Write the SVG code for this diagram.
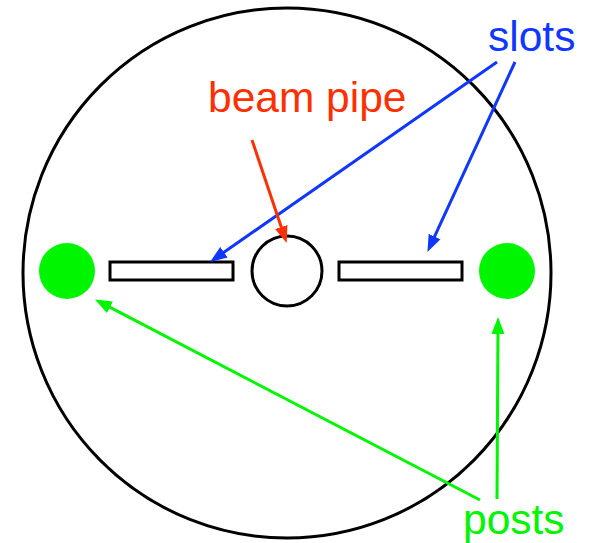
<svg xmlns="http://www.w3.org/2000/svg" width="593" height="543" viewBox="0 0 593 543">
<defs>
<marker id="b" markerUnits="userSpaceOnUse" markerWidth="18" markerHeight="14" refX="9" refY="7" orient="auto"><path d="M0 0.5L17 7L0 13.5Z" fill="#0f37ff"/></marker>
<marker id="r" markerUnits="userSpaceOnUse" markerWidth="18" markerHeight="14" refX="9" refY="7" orient="auto"><path d="M0 0.5L17 7L0 13.5Z" fill="#ff3000"/></marker>
<marker id="g" markerUnits="userSpaceOnUse" markerWidth="18" markerHeight="14" refX="9" refY="7" orient="auto"><path d="M0 0.5L17 7L0 13.5Z" fill="#00f500"/></marker>
</defs>
<style>
.o{fill:#fff;stroke:#000;stroke-width:3}
.t{font-family:"Liberation Sans",Arial,sans-serif;font-size:42.5px}
.c{fill:none;stroke-width:3}
</style>
<rect width="593" height="543" fill="#fff"/>
<g id="housing"><ellipse cx="287" cy="273" rx="264" ry="265" fill="#fff" stroke="#000" stroke-width="3"/></g>
<g id="slot-left"><rect class="o" x="110" y="262" width="123" height="18"/></g>
<g id="slot-right"><rect class="o" x="339" y="262" width="123" height="18"/></g>
<g id="pipe"><circle class="o" cx="287" cy="271" r="35"/></g>
<g id="post-left"><circle cx="67" cy="271" r="28" fill="#00f500"/></g>
<g id="post-right"><circle cx="507" cy="271" r="28" fill="#00f500"/></g>
<g id="connectors">
<path class="c" stroke="#0f37ff" marker-end="url(#b)" d="M497 62L216.6 257.4"/>
<path class="c" stroke="#0f37ff" marker-end="url(#b)" d="M515 62L430.8 244.7"/>
<path class="c" stroke="#ff3000" marker-end="url(#r)" d="M252 140L284.1 235.5"/>
<path class="c" stroke="#00f500" marker-end="url(#g)" d="M480 500L102 303.2"/>
<path class="c" stroke="#00f500" marker-end="url(#g)" d="M497 499L498 325"/>
</g>
<g id="labels">
<text class="t" x="488" y="51" fill="#0f37ff">slots</text>
<text class="t" x="208" y="112" fill="#ff3000">beam pipe</text>
<text class="t" x="463" y="534" fill="#00f500">posts</text>
</g>
</svg>
